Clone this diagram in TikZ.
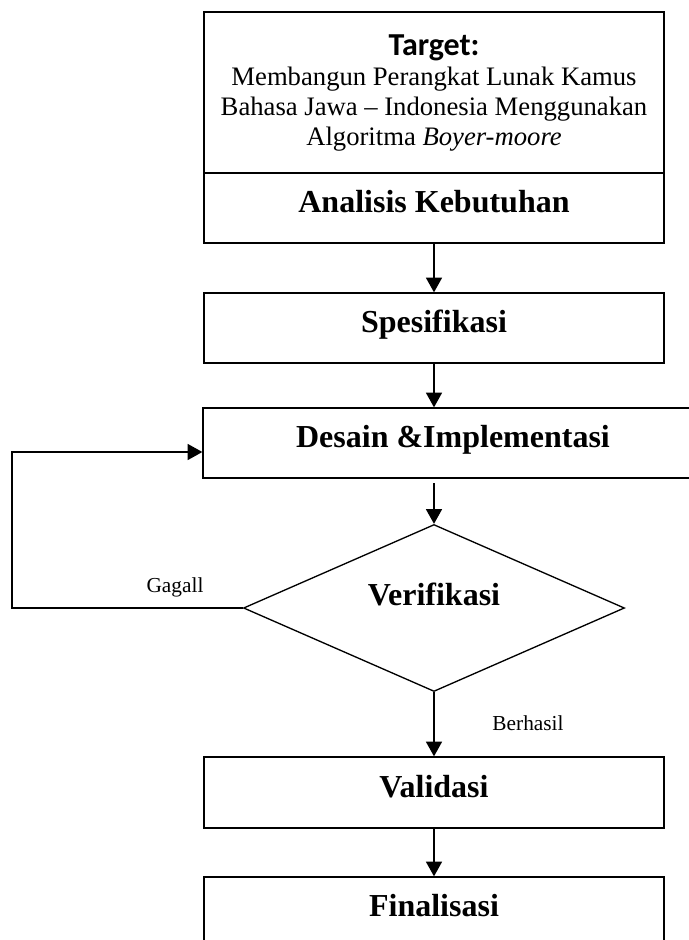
\documentclass[tikz,border=0pt]{standalone}
\usepackage{fontspec}
\setmainfont{Liberation Serif}
\newfontfamily\calibrifont{Carlito}
\usetikzlibrary{shapes.geometric,arrows.meta}
\tikzset{
  kotak/.style={draw,line width=1pt,minimum width=345pt,minimum height=52.5pt,inner sep=0pt,
    font=\fontsize{24}{28}\selectfont\bfseries,text height=18pt,text depth=11pt},
  belah/.style={draw,line width=1pt,diamond,aspect=2.28,minimum width=285.75pt,minimum height=125.25pt,
    inner sep=0pt,font=\fontsize{24}{28}\selectfont\bfseries,text height=16pt,text depth=19.5pt},
  ket/.style={font=\fontsize{16}{18}\selectfont,inner sep=0pt},
  panah/.style={line width=1pt,-{Triangle[width=12pt,length=11pt]}}
}
\begin{document}
\begin{tikzpicture}[x=0.75pt,y=-0.75pt]
      \clip (0,0) rectangle (689,940);
      \node[draw,line width=1pt,minimum width=345pt,minimum height=120.75pt,inner sep=0pt,align=center,
        font=\fontsize{20}{22.5}\selectfont] (target) at (434,92.5)
        {{\calibrifont\bfseries\fontsize{24}{23}\selectfont Target:}\\
         Membangun Perangkat Lunak Kamus\\
         Bahasa Jawa -- Indonesia Menggunakan\\
         Algoritma \textit{Boyer-moore}};
      \node[kotak] (analisis) at (434,208) {Analisis Kebutuhan};
      \node[kotak] (spesifikasi) at (434,328) {Spesifikasi};
      \node[kotak,minimum width=375pt] (desain) at (453,443) {Desain \&Implementasi};
      \node[belah] (verif) at (434,608) {Verifikasi};
      \node[kotak,minimum height=53.25pt] (validasi) at (434,792.5) {Validasi};
      \node[kotak] (finalisasi) at (434,912) {Finalisasi};
      \node[ket] (gagal) at (175,587) {Gagall};
      \node[ket] (berhasil) at (528,723) {Berhasil};
      \coordinate (balik) at (12,452);
      \begin{scope}[panah]
        \draw (analisis) -- (spesifikasi);
        \draw (spesifikasi.south) -- (spesifikasi.south |- desain.north);
        \draw[shorten <=3.5pt] (verif.north |- desain.south) -- (verif.north);
        \draw (verif.south) -- (validasi.north);
        \draw (validasi) -- (finalisasi);
        \draw (verif.west) -| (balik) -- (balik -| desain.west);
      \end{scope}
    \end{tikzpicture}
\end{document}
